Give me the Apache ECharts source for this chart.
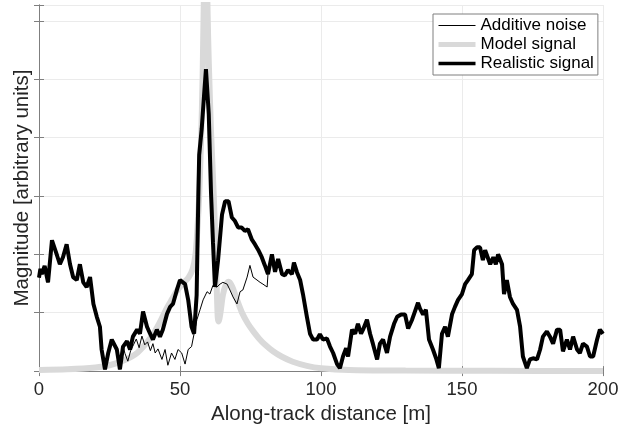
<!DOCTYPE html>
<html>
<head>
<meta charset="utf-8">
<script src="https://cdn.jsdelivr.net/npm/echarts@6/dist/echarts.min.js"></script>
<style>
  html, body { margin: 0; padding: 0; background: #fff; }
  #main { width: 641px; height: 430px; }
</style>
</head>
<body>
<div id="main"></div>
<script>
// x positions [m] and magnitudes
const realX = [0, 0.5, 1, 2, 3.2, 4.6, 5, 6.4, 7.4, 8.5, 9.8, 11, 12.1, 13.4, 14.5, 15.7, 16.9, 18.1, 19.3, 20.5,
  21.6, 22.2, 23.4, 24.5, 25.8, 27.6, 28.7, 29.8, 31.2, 32.3, 33.3, 34.8, 35.8, 36.9, 38.3, 39.4, 40.4, 41.8, 42.9, 43.9,
  45.4, 46.5, 47.5, 48.9, 50, 50.6, 51.8, 52.9, 54.1, 55, 55.9, 56.5, 56.8, 57.7, 58.5, 59.2, 60.2, 61, 61.7, 62.4, 63.5,
  64.9, 66, 67.2, 68.4, 69.5, 70.6, 71.8, 73, 74.1, 75.5, 76.6, 77.7, 79, 80.1, 81.2, 82.6, 83.7, 84.8, 86.2, 87.2,
  88.3, 89.7, 90.4, 91.5, 92.6, 93.6, 95, 96.1, 97.2, 98.6, 99.6, 100.7, 102.1, 103.2, 104.3, 105.7, 106.7, 107.8, 108.9, 109.6,
  111, 112.1, 113.1, 114.2, 114.9, 116.3, 117.4, 118.4, 119.9, 120.9, 122, 123.4, 124.5, 125.9, 127, 128.4, 129.8, 130.9, 132.3, 133.3,
  134.4, 135.1, 136.2, 137.2, 138.3, 139.7, 140.8, 141.8, 142.9, 144, 145, 146.5, 147.5, 148.6, 150, 151.1, 152.1, 153.5, 154.3, 155.3,
  156.4, 157.4, 158.2, 158.9, 160, 161.1, 162, 162.8, 164.2, 164.9, 165.9, 167, 168.1, 169.5, 170.6, 171.6, 173, 174.1, 175.2, 176.6,
  177.7, 178.7, 180.1, 181.2, 182.3, 183.7, 184.8, 185.8, 187.2, 188.3, 189.4, 190.8, 191.8, 192.9, 194.3, 195.4, 196.5, 197.9, 198.9, 200];
const realY = [1.6, 1.75, 1.66, 1.8, 1.52, 2.24, 2.24, 1.98, 1.83, 1.95, 2.17, 1.83, 1.61, 1.56, 1.83, 1.52, 1.44, 1.61, 1.15, 0.93,
  0.76, 0.37, 0.03, 0.3, 0.54, 0.37, 0.03, 0.42, 0.51, 0.37, 0.59, 0.71, 0.64, 1.02, 0.76, 0.64, 0.54, 0.71, 0.59, 0.71,
  0.98, 1.1, 1.15, 1.39, 1.56, 1.58, 1.49, 1.22, 0.76, 0.64, 1.3, 3.0, 3.7, 4.15, 4.7, 5.17, 4.4, 3.05, 2.2, 1.44, 1.9,
  2.68, 2.91, 2.91, 2.63, 2.57, 2.46, 2.46, 2.4, 2.43, 2.25, 2.17, 2.08, 1.95, 1.81, 1.66, 2.0, 1.7, 1.92, 1.66, 1.64,
  1.73, 1.66, 1.86, 1.69, 1.56, 1.32, 0.93, 0.64, 0.54, 0.54, 0.63, 0.54, 0.56, 0.42, 0.31, 0.12, 0.05, 0.25, 0.39, 0.25,
  0.71, 0.64, 0.81, 0.64, 0.71, 0.88, 0.64, 0.47, 0.2, 0.47, 0.54, 0.31, 0.59, 0.81, 0.93, 0.97, 0.97, 0.73, 0.88, 1.02,
  1.17, 1.07, 0.97, 1.05, 0.54, 0.37, 0.22, 0.05, 0.64, 0.76, 0.59, 0.98, 1.1, 1.22, 1.32, 1.49, 1.56, 1.66, 2.07, 2.12,
  2.12, 1.9, 2.07, 2.07, 1.83, 1.95, 1.83, 2.0, 1.83, 1.32, 1.56, 1.27, 1.15, 1.05, 0.76, 0.25, 0.05, 0.2, 0.22, 0.2,
  0.37, 0.59, 0.68, 0.59, 0.47, 0.71, 0.71, 0.34, 0.54, 0.37, 0.59, 0.37, 0.31, 0.47, 0.42, 0.25, 0.25, 0.54, 0.71, 0.64];

// additive noise where it separates from the realistic signal
const noiseX = [30.5, 31.5, 32.5, 33.5, 34.5, 35.5, 36.5, 37.5, 38.5, 39.5, 40.4, 41.2, 42.2, 43.6, 44.7, 45.7, 47, 48.2, 49.3, 50.6,
  51.8, 52.9, 54.1, 55, 56, 57.1, 58.2, 59.6, 60.6, 61.7, 63.1, 64.2, 65.2, 66.7, 67.7, 68.8, 70.2, 71.3, 72.3, 73.8,
  74.8, 75.9, 77.3, 78.4, 79.4, 80.9];
const noiseY = [0.3, 0.17, 0.35, 0.45, 0.55, 0.4, 0.6, 0.45, 0.5, 0.35, 0.47, 0.31, 0.38, 0.2, 0.37, 0.1, 0.31, 0.2, 0.37, 0.31,
  0.12, 0.37, 0.42, 0.64, 0.88, 1.05, 1.22, 1.36, 1.32, 1.47, 1.44, 1.49, 1.52, 1.49, 1.39, 1.27, 1.15, 1.36, 1.39, 1.61,
  1.81, 1.61, 1.56, 1.52, 1.49, 1.44];

// model signal
const modelX = [0, 10, 20, 25, 30, 35, 40, 43, 45, 47, 49, 51, 53, 54.5, 55.5, 56.2, 56.8, 57.5, 58, 58.4, 58.8,
  59.1, 59.4, 59.8, 60.2, 61, 62, 62.8, 63.3, 63.6, 64, 64.5, 65.2, 66.2, 67.3, 68.5, 70, 72, 74, 76, 78,
  80, 83, 86, 90, 95, 100, 110, 130, 160, 200];
const modelY = [0.02, 0.03, 0.06, 0.1, 0.18, 0.32, 0.6, 0.85, 1.05, 1.22, 1.38, 1.5, 1.6, 1.75, 2.0, 2.45, 3.0, 4.0, 5.0, 6.2, 7.1,
  7.4, 7.1, 6.1, 5.3, 4.1, 2.97, 1.8, 1.0, 0.85, 0.9, 1.05, 1.3, 1.47, 1.53, 1.45, 1.25, 1.0, 0.82, 0.68, 0.56,
  0.46, 0.34, 0.25, 0.16, 0.09, 0.05, 0.02, 0.01, 0.005, 0];

const xTicks = [0, 50, 100, 150, 200];

function pairs (xs, ys) {
  return xs.map((x, i) => [x, ys[i]]);
}

const realData = pairs(realX, realY);
const noiseMid = pairs(noiseX, noiseY);
const noiseData = realData.filter(p => p[0] < noiseX[0])
  .concat(noiseMid)
  .concat(realData.filter(p => p[0] > noiseX[noiseX.length - 1]));

const font = "'Liberation Sans', Arial, sans-serif";
const boxColor = '#7f7f7f';
const gridColor = '#ebebeb';

const chart = echarts.init(document.getElementById('main'));
chart.setOption({
  animation: false,
  backgroundColor: '#fff',
  grid: { left: 39, right: 38, top: 5, bottom: 55 },
  legend: {
    left: 433, top: 14,
    orient: 'vertical',
    itemWidth: 37, itemHeight: 17, itemGap: 2,
    padding: [3, 4, 3, 3],
    backgroundColor: '#fff',
    borderColor: boxColor, borderWidth: 1,
    itemStyle: { opacity: 0 },
    textStyle: { fontFamily: font, fontSize: 17, color: '#000' },
    data: [
      { name: 'Additive noise', lineStyle: { width: 1 } },
      { name: 'Model signal', lineStyle: { width: 5 } },
      { name: 'Realistic signal', lineStyle: { width: 3.5 } }
    ]
  },
  xAxis: [{
    type: 'value', min: 0, max: 200, interval: 50,
    name: 'Along-track distance [m]', nameLocation: 'middle', nameGap: 29,
    nameTextStyle: { fontFamily: font, fontSize: 20.5, color: '#262626' },
    axisLine: { onZero: false, lineStyle: { color: boxColor, width: 1 } },
    axisTick: { inside: true, length: 5, lineStyle: { color: boxColor } },
    axisLabel: {
      margin: 9, fontFamily: font, fontSize: 18.5, color: '#262626',
      formatter: v => (xTicks.indexOf(v) >= 0 ? String(v) : '')
    },
    splitLine: { show: true, lineStyle: { color: gridColor, width: 1 } }
  }, {
    type: 'value', min: 0, max: 200, interval: 50, position: 'top',
    axisLine: { lineStyle: { color: boxColor, width: 1 } },
    axisTick: { inside: true, length: 5, lineStyle: { color: boxColor } },
    axisLabel: { show: false },
    splitLine: { show: false }
  }],
  yAxis: [{
    type: 'value', min: 0, max: 6.27, interval: 1,
    name: 'Magnitude [arbitrary units]', nameLocation: 'middle', nameGap: 6,
    nameTextStyle: { fontFamily: font, fontSize: 20.5, color: '#262626' },
    axisLine: { show: true, lineStyle: { color: boxColor, width: 1 } },
    axisTick: { show: true, inside: true, length: 5, lineStyle: { color: boxColor } },
    axisLabel: { show: false },
    splitLine: { show: true, lineStyle: { color: gridColor, width: 1 } }
  }, {
    type: 'value', min: 0, max: 6.27, interval: 1, position: 'right',
    axisLine: { show: true, lineStyle: { color: boxColor, width: 1 } },
    axisTick: { show: true, inside: true, length: 5, lineStyle: { color: boxColor } },
    axisLabel: { show: false },
    splitLine: { show: false }
  }],
  series: [{
    name: 'Additive noise',
    type: 'line', z: 3,
    showSymbol: false, symbol: 'none',
    lineStyle: { color: '#000', width: 1 },
    itemStyle: { color: '#000' },
    data: noiseData
  }, {
    name: 'Model signal',
    type: 'line', z: 2,
    showSymbol: false, symbol: 'none', smooth: 0.3,
    lineStyle: { color: '#d9d9d9', width: 6 },
    itemStyle: { color: '#d9d9d9' },
    data: pairs(modelX, modelY)
  }, {
    name: 'Realistic signal',
    type: 'line', z: 4,
    showSymbol: false, symbol: 'none',
    lineStyle: { color: '#000', width: 4 },
    itemStyle: { color: '#000' },
    data: realData
  }]
});
</script>
</body>
</html>
